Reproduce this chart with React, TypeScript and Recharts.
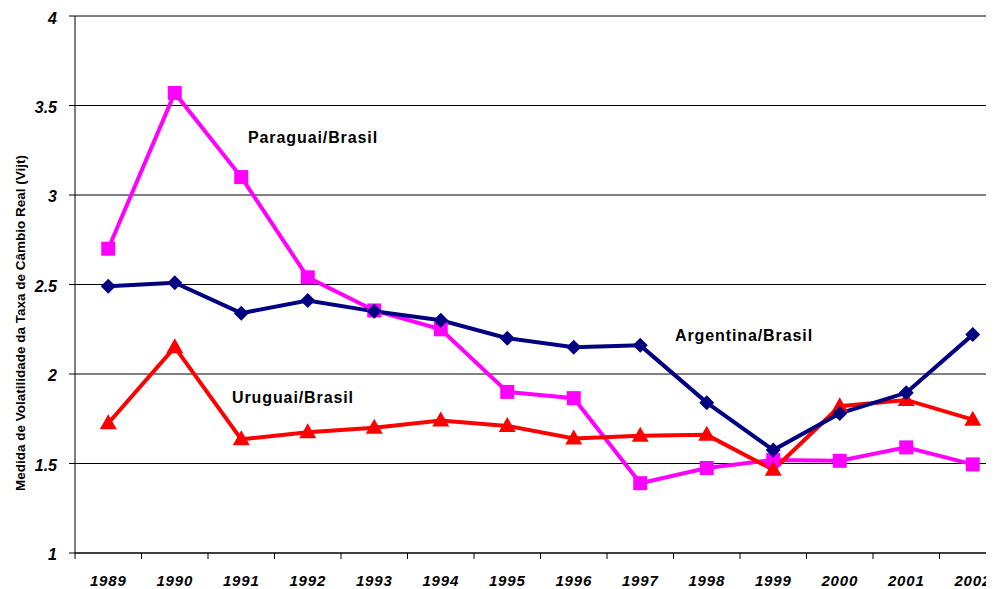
import { LineChart, Line, XAxis, YAxis, CartesianGrid } from 'recharts';

const years = ['1989', '1990', '1991', '1992', '1993', '1994', '1995', '1996', '1997', '1998', '1999', '2000', '2001', '2002'];
const argentina = [2.49, 2.51, 2.34, 2.41, 2.35, 2.3, 2.2, 2.15, 2.16, 1.84, 1.575, 1.78, 1.895, 2.22];
const paraguai = [2.7, 3.57, 3.1, 2.54, 2.355, 2.25, 1.9, 1.865, 1.39, 1.475, 1.52, 1.515, 1.59, 1.495];
const uruguai = [1.725, 2.15, 1.635, 1.675, 1.7, 1.74, 1.71, 1.64, 1.655, 1.66, 1.465, 1.82, 1.855, 1.745];
const yTicks = [1, 1.5, 2, 2.5, 3, 3.5, 4];

const data = years.map((year, i) => ({
  year,
  argentina: argentina[i],
  paraguai: paraguai[i],
  uruguai: uruguai[i],
}));

const CHART_W = 1000;
const CHART_H = 581;
const Y_AXIS_W = 67;
const MARGIN = { top: 8, right: 2, left: 0, bottom: 0 };
const BAND = (CHART_W - MARGIN.right - Y_AXIS_W) / years.length;

const Diamond = (props: any) => {
  const { cx, cy } = props;
  if (cx == null || cy == null) return null;
  const r = 7.5;
  return <path d={`M${cx},${cy - r}L${cx + r},${cy}L${cx},${cy + r}L${cx - r},${cy}Z`} fill="#000080" />;
};

const Square = (props: any) => {
  const { cx, cy } = props;
  if (cx == null || cy == null) return null;
  return <rect x={cx - 7} y={cy - 7} width={14} height={14} fill="#FF00FF" />;
};

const Triangle = (props: any) => {
  const { cx, cy } = props;
  if (cx == null || cy == null) return null;
  return <path d={`M${cx},${cy - 9}L${cx + 8.5},${cy + 6}L${cx - 8.5},${cy + 6}Z`} fill="#FF0000" />;
};

const tickFont = {
  fontWeight: 'bold' as const,
  fontStyle: 'italic' as const,
  fill: '#000',
};

const YearTick = (props: any) => {
  const { x, y, payload, index } = props;
  return (
    <g>
      <line x1={x - BAND / 2} x2={x - BAND / 2} y1={y} y2={y + 6} stroke="#000" />
      {index === years.length - 1 && (
        <line x1={x + BAND / 2} x2={x + BAND / 2} y1={y} y2={y + 6} stroke="#000" />
      )}
      <text x={x} y={y + 33} textAnchor="middle" fontSize={15} letterSpacing={0.8} {...tickFont}>
        {payload.value}
      </text>
    </g>
  );
};

const ValueTick = (props: any) => {
  const { x, y, payload } = props;
  return (
    <text x={x} y={y + 7} textAnchor="end" fontSize={16} {...tickFont}>
      {String(payload.value)}
    </text>
  );
};

const labelStyle = { fontSize: 16, fontWeight: 'bold' as const, fill: '#000', letterSpacing: 0.9 };

export default function App() {
  return (
    <>
      <style>{'html, body { overflow: hidden; }'}</style>
      <div style={{ width: 986, height: CHART_H, overflow: 'hidden' }}>
        <LineChart
          width={CHART_W}
          height={CHART_H}
          data={data}
          margin={MARGIN}
          style={{ fontFamily: '"Liberation Sans", Arial, sans-serif' }}
        >
          <CartesianGrid vertical={false} stroke="#000" />
          <XAxis
            dataKey="year"
            type="category"
            interval={0}
            height={36}
            padding={{ left: BAND / 2, right: BAND / 2 }}
            tickLine={false}
            tickSize={0}
            tickMargin={0}
            axisLine={{ stroke: '#000' }}
            tick={<YearTick />}
          />
          <YAxis
            type="number"
            domain={[1, 4]}
            ticks={yTicks}
            width={Y_AXIS_W}
            tickSize={6}
            tickMargin={12}
            axisLine={{ stroke: '#000' }}
            tickLine={{ stroke: '#000' }}
            tick={<ValueTick />}
          />
          <Line
            dataKey="paraguai"
            stroke="#FF00FF"
            strokeWidth={4}
            dot={<Square />}
            isAnimationActive={false}
          />
          <Line
            dataKey="uruguai"
            stroke="#FF0000"
            strokeWidth={4}
            dot={<Triangle />}
            isAnimationActive={false}
          />
          <Line
            dataKey="argentina"
            stroke="#000080"
            strokeWidth={4}
            dot={<Diamond />}
            isAnimationActive={false}
          />
          <text
            x={12}
            y={315}
            transform="rotate(-90 12 315)"
            textAnchor="middle"
            dominantBaseline="central"
            fontSize={13.5}
            fontWeight="bold"
            fill="#000"
          >
            Medida de Volatilidade da Taxa de Câmbio Real  (Vijt)
          </text>
          <text x={240} y={135} {...labelStyle}>Paraguai/Brasil</text>
          <text x={667} y={333} {...labelStyle}>Argentina/Brasil</text>
          <text x={224} y={395} {...labelStyle}>Uruguai/Brasil</text>
        </LineChart>
      </div>
    </>
  );
}
